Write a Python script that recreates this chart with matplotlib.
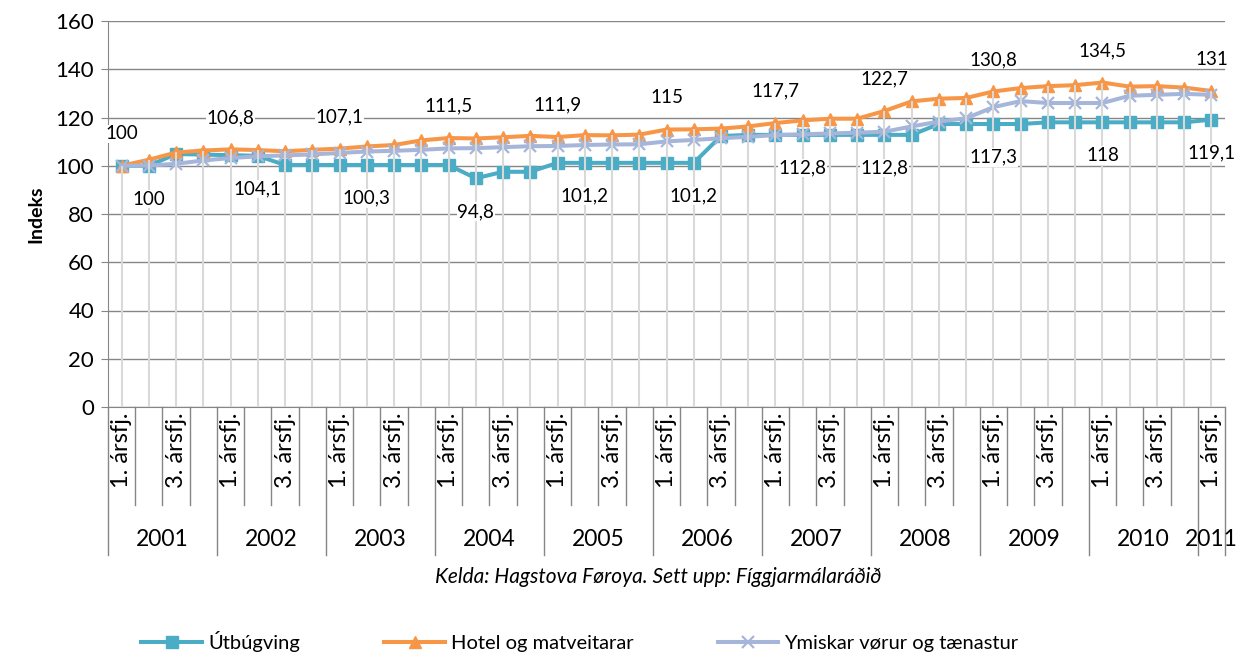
import matplotlib.pyplot as plt
from matplotlib.transforms import blended_transform_factory
from matplotlib.lines import Line2D

plt.rcParams['font.family'] = ['Lato', 'DejaVu Sans']

# Ársfjórðingar 2001 1. ársfj. - 2011 1. ársfj.
years = [str(y) for y in range(2001, 2012)]
quarter_labels = ['1. ársfj.', '', '3. ársfj.', '']

utbugving = [100, 100, 104.9, 104.6, 104.4, 104.1, 100.3, 100.3, 100.3, 100.3,
             100.3, 100.3, 100.3, 94.8, 97.5, 97.5, 101.2, 101.2, 101.2, 101.2,
             101.2, 101.2, 112.3, 112.8, 112.8, 112.8, 112.8, 112.8, 112.8, 112.8,
             117.3, 117.3, 117.3, 117.3, 118, 118, 118, 118, 118, 118,
             119.1]
hotel = [100, 102.5, 105.5, 106.3, 106.8, 106.5, 106.0, 106.6, 107.1, 108.0,
         108.6, 110.5, 111.5, 111.3, 111.8, 112.4, 111.9, 112.7, 112.6, 112.9,
         115, 115.1, 115.4, 116.3, 117.7, 118.8, 119.5, 119.5, 122.7, 126.7,
         127.8, 128.1, 130.8, 132.2, 133.0, 133.4, 134.5, 132.8, 133.0, 132.4,
         131]
ymiskar = [100, 100.1, 100.8, 102.2, 103.2, 103.9, 104.3, 104.7, 105.3, 105.9,
           106.2, 106.6, 107.2, 107.3, 107.7, 108.1, 108.2, 108.6, 108.8, 108.9,
           110.1, 110.7, 111.4, 112.0, 112.7, 113.0, 113.4, 113.7, 114.1, 116.3,
           118.3, 119.7, 124.3, 126.8, 126.0, 126.0, 126.0, 129.0, 129.4, 129.8,
           129.4]

# Hvar virðini verða skrivað á myndina
hotel_lbl = [0, 4, 8, 12, 16, 20, 24, 28, 32, 36, 40]
utb_lbl = [1, 5, 9, 13, 17, 21, 25, 28, 32, 36, 40]

W, H = 1253, 658
fig = plt.figure(figsize=(W / 100, H / 100), dpi=100)
ax = fig.add_axes([108 / W, 1 - 407 / H, (1225 - 108) / W, (407 - 21) / H])

x = list(range(len(hotel)))
c_utb, c_hot, c_ymi = '#4BACC6', '#F79646', '#A6B6DA'
grid_c = '#868686'

ax.plot(x, utbugving, color=c_utb, lw=2.9, marker='s', ms=8.5, zorder=3,
        label='Útbúgving')
ax.plot(x, hotel, color=c_hot, lw=2.9, marker='^', ms=8, zorder=3,
        label='Hotel og matveitarar')
ax.plot(x, ymiskar, color=c_ymi, lw=2.9, marker='x', ms=8, mew=1.6, zorder=3,
        label='Ymiskar vørur og tænastur')

# fallstrikur
ax.vlines(x, 0, hotel, color='#D9D9D9', lw=1.5, zorder=4)

fmt = lambda v: f'{v:g}'.replace('.', ',')
lbl_box = dict(facecolor='white', edgecolor='none', pad=0.5)
for i in hotel_lbl:
    ax.annotate(fmt(hotel[i]), (i, hotel[i]), xytext=(0, 23),
                textcoords='offset points', ha='center', va='center',
                fontsize=13.5, bbox=lbl_box, zorder=6)
for i in utb_lbl:
    ax.annotate(fmt(utbugving[i]), (i, utbugving[i]), xytext=(0, -24),
                textcoords='offset points', ha='center', va='center',
                fontsize=13.5, bbox=lbl_box, zorder=6)

ax.set_xlim(-0.5, len(x) - 0.5)
ax.set_ylim(0, 160)
ax.set_yticks(range(0, 161, 20))
ax.tick_params(axis='y', labelsize=16, length=5, color=grid_c, pad=5)
ax.set_xticks([])
ax.grid(axis='y', color=grid_c, lw=1)
ax.set_axisbelow(True)
for s in ['top', 'right']:
    ax.spines[s].set_visible(False)
for s in ['left', 'bottom']:
    ax.spines[s].set_color(grid_c)
ax.set_ylabel('Indeks', fontsize=14, fontweight='bold', labelpad=8)

# fleiri stig á x-ásinum: ársfjórðingar og ár
tr = blended_transform_factory(ax.transData, fig.transFigure)
fy = lambda px: 1 - px / H
for b in range(len(x) + 1):
    bottom = 555 if b % 4 == 0 or b == len(x) else 505
    ax.add_line(Line2D([b - 0.5, b - 0.5], [fy(407), fy(bottom)], transform=tr,
                       color=grid_c, lw=1, clip_on=False))
for i in x:
    q = quarter_labels[i % 4]
    if q:
        ax.text(i, fy(412), q, transform=tr, rotation=90, ha='center', va='top',
                fontsize=17)
for k, yr in enumerate(years):
    first = 4 * k
    last = min(4 * k + 3, len(x) - 1)
    ax.text((first + last) / 2, fy(540), yr, transform=tr, ha='center',
            va='center', fontsize=16.5)

fig.text(658 / W, fy(577), 'Kelda: Hagstova Føroya. Sett upp: Fíggjarmálaráðið',
         ha='center', va='center', fontsize=15, style='italic')

fig.legend(loc='center', bbox_to_anchor=(580 / W, fy(642)), ncol=3, frameon=False,
           fontsize=14.5, handlelength=3.0, columnspacing=4.2, handletextpad=0.3)

fig.savefig('out.png', dpi=100)
